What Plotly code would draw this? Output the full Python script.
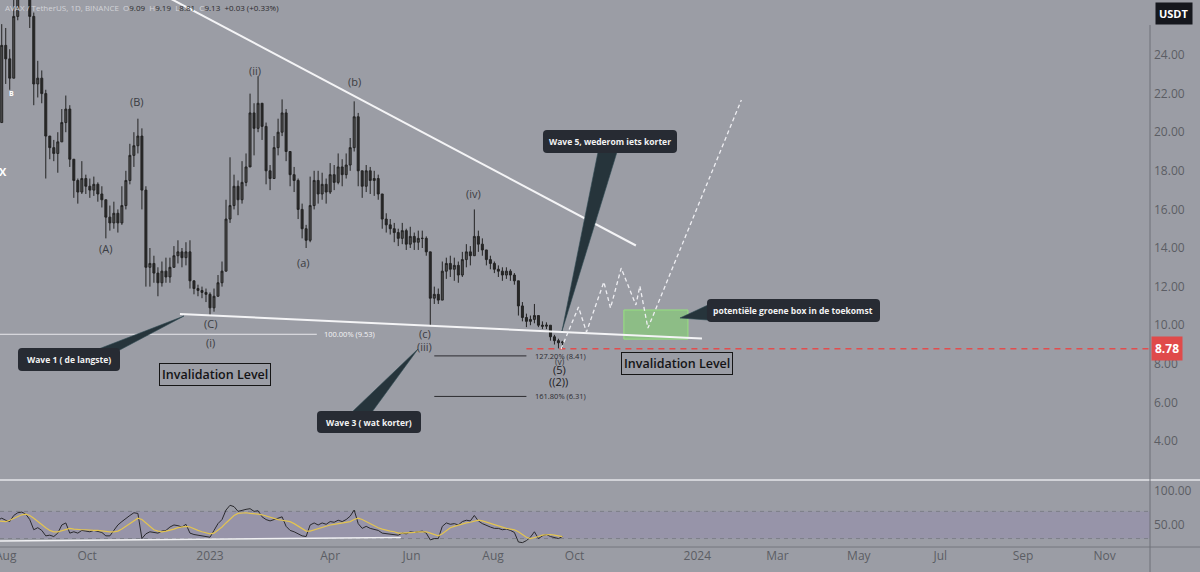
import plotly.graph_objects as go
import pandas as pd

# ---------------- data ----------------
start_date = '2022-07-26'          # first candle, 3-day candles
first_open = 20.0
closes = [20.5, 24.5, 23.8, 22.8, 26.0, 28.0, 28.5, 28.0, 26.0, 22.5,
          22.8, 22.0, 19.8, 19.2, 18.9, 19.5, 20.5, 21.2, 18.6, 17.5,
          16.9, 17.6, 17.2, 17.0, 17.3, 16.8, 16.5, 15.6, 15.3, 15.8,
          15.3, 16.2, 17.5, 18.8, 19.3, 19.8, 17.0, 13.0, 13.2, 12.7,
          12.2, 12.8, 12.5, 13.0, 13.6, 13.8, 13.5, 13.8, 12.3, 11.9,
          11.8, 11.7, 11.6, 10.9, 11.5, 12.2, 12.8, 15.5, 16.2, 17.2,
          16.5, 17.4, 18.2, 21.0, 20.2, 21.5, 20.3, 18.0, 17.6, 19.2,
          20.0, 21.0, 19.0, 17.8, 17.5, 16.0, 15.0, 14.4, 16.2, 17.5,
          16.8, 17.3, 16.9, 17.8, 17.4, 18.2, 17.8, 18.3, 19.2, 20.8,
          18.0, 17.2, 18.0, 17.5, 17.6, 16.8, 15.5, 15.2, 15.0, 14.8,
          14.5, 14.9, 14.2, 14.6, 14.3, 14.5, 14.5, 13.8, 11.4, 11.6,
          11.3, 12.8, 13.2, 12.9, 13.1, 12.6, 13.4, 13.8, 13.6, 14.6,
          14.2, 13.9, 13.4, 13.2, 12.9, 12.8, 12.6, 12.8, 12.6, 12.3,
          11.0, 10.4, 10.2, 10.3, 10.5, 10.0, 9.95, 10.0, 9.4, 9.2,
          9.09, 9.13]
highs = [21.0, 25.6, 25.4, 24.3, 27.0, 29.0, 29.8, 29.5, 28.3, 26.2,
         23.7, 23.2, 22.2, 19.8, 19.6, 20.0, 21.2, 21.9, 21.4, 18.3,
         17.6, 18.5, 17.8, 17.6, 17.7, 17.4, 17.2, 16.5, 16.2, 16.4,
         16.0, 17.2, 18.0, 19.4, 20.0, 20.7, 20.2, 17.2, 14.0, 13.6,
         13.0, 13.3, 13.5, 13.5, 14.1, 14.4, 14.0, 14.3, 14.4, 12.2,
         12.1, 12.0, 11.9, 11.7, 11.9, 12.6, 13.3, 16.5, 18.7, 17.8,
         17.5, 18.5, 18.9, 22.0, 21.5, 22.9, 21.3, 20.5, 18.3, 19.8,
         20.7, 21.7, 21.2, 18.7, 18.2, 17.6, 16.3, 15.2, 17.7, 18.0,
         18.0, 17.9, 17.6, 18.4, 18.3, 18.9, 18.6, 18.9, 19.7, 21.6,
         21.0, 18.0, 18.3, 18.2, 18.0, 17.8, 16.8, 15.8, 15.5, 15.3,
         15.0, 15.3, 15.0, 15.1, 14.8, 14.9, 14.9, 14.6, 13.8, 12.0,
         11.9, 13.3, 13.5, 13.6, 13.5, 13.3, 13.8, 14.2, 14.1, 16.0,
         14.9, 14.5, 13.9, 13.6, 13.3, 13.1, 13.0, 13.0, 12.9, 12.7,
         12.3, 11.2, 10.6, 10.5, 11.1, 10.5, 10.2, 10.15, 10.0, 9.5,
         9.3, 9.19]
lows = [19.6, 20.5, 22.5, 22.2, 22.8, 25.8, 27.5, 27.0, 25.4, 21.4,
        21.8, 21.5, 17.6, 18.6, 18.5, 17.9, 19.5, 20.0, 18.2, 16.6,
        16.3, 16.8, 16.8, 16.6, 16.7, 16.4, 16.1, 14.5, 14.9, 15.0,
        14.8, 15.2, 16.0, 17.3, 18.2, 18.9, 16.0, 12.0, 12.0, 12.2,
        11.5, 12.0, 12.2, 12.2, 13.0, 13.2, 13.0, 13.1, 11.9, 11.6,
        11.5, 11.4, 11.2, 10.5, 10.7, 11.5, 12.0, 12.8, 15.3, 16.0,
        15.7, 16.3, 17.2, 18.3, 18.8, 20.0, 19.6, 17.3, 17.0, 17.6,
        18.8, 19.8, 18.5, 17.2, 16.9, 15.5, 14.5, 14.0, 14.3, 16.0,
        16.3, 16.5, 16.3, 16.8, 17.0, 17.3, 17.2, 17.6, 18.0, 19.0,
        17.2, 16.6, 16.9, 16.8, 16.7, 16.5, 15.0, 14.8, 14.7, 14.3,
        14.1, 14.2, 13.9, 14.0, 13.9, 13.9, 14.0, 13.6, 10.0, 11.1,
        11.1, 11.3, 12.4, 12.5, 12.3, 12.2, 12.5, 13.0, 13.1, 13.6,
        13.8, 13.6, 13.1, 12.9, 12.7, 12.5, 12.3, 12.4, 12.3, 12.1,
        10.5, 10.2, 9.9, 10.0, 10.1, 9.9, 9.8, 9.8, 9.2, 9.0,
        8.8, 8.81]
rsi = [57, 60, 57, 55, 64, 68, 69, 66, 58, 43,
       46, 42, 34, 35, 33, 38, 50, 53, 38, 40,
       38, 42, 41, 40, 42, 40, 39, 34, 34, 42,
       50, 55, 60, 64, 68, 67, 30, 37, 40, 39,
       38, 41, 42, 47, 50, 49, 47, 51, 38, 36,
       35, 34, 33, 32, 42, 52, 58, 72, 79, 77,
       70, 72, 73, 74, 70, 71, 62, 58, 56, 58,
       60, 62, 48, 42, 40, 37, 34, 33, 50, 53,
       50, 53, 51, 55, 54, 57, 55, 58, 63, 72,
       52, 45, 48, 45, 44, 42, 38, 37, 36, 36,
       35, 38, 37, 40, 39, 40, 41, 38, 28, 30,
       30, 48, 53, 51, 52, 50, 55, 57, 56, 64,
       56, 52, 49, 47, 45, 45, 43, 44, 42, 39,
       25, 24, 27, 32, 40, 30, 34, 36, 33, 32,
       30, 33]
rsi_ma = [56, 55, 55, 57, 60, 63, 65, 66, 64, 60,
          55, 50, 46, 42, 40, 40, 42, 44, 45, 44,
          43, 43, 43, 42, 42, 42, 41, 40, 40, 40,
          41, 44, 48, 53, 57, 60, 58, 53, 48, 43,
          41, 40, 41, 42, 44, 46, 47, 48, 47, 44,
          42, 40, 38, 37, 38, 42, 47, 53, 59, 64,
          67, 68, 68, 67, 67, 66, 65, 63, 61, 59,
          58, 57, 56, 55, 52, 48, 44, 41, 41, 43,
          45, 47, 48, 50, 51, 52, 53, 54, 55, 58,
          60, 58, 55, 51, 48, 46, 44, 42, 41, 40,
          38, 38, 38, 38, 39, 40, 40, 40, 38, 36,
          34, 37, 42, 46, 48, 50, 51, 53, 54, 56,
          57, 56, 54, 52, 50, 48, 46, 45, 44, 43,
          40, 36, 32, 30, 31, 33, 35, 36, 36, 35,
          34, 33]

# drawings (date, price)
upper_tl_x = ['2022-11-24', '2023-11-16']
upper_tl_y = [27.23, 14.13]
lower_tl_x = ['2022-12-09 12:00', '2024-01-04 12:00']
lower_tl_y = [10.58, 9.31]
fib100_x = ['2022-07-20', '2023-03-22']
fib100_y = 9.53
fib_ext_x = ['2023-06-18', '2023-08-26']
fib127_y = 8.41
fib161_y = 6.31
invalid_x = ['2023-08-26', '2025-01-01']
invalid_y = 8.78
box_x = ['2023-11-07', '2023-12-25']
box_y = [9.28, 10.79]
proj_x = ['2023-09-21', '2023-10-04', '2023-10-10', '2023-10-23', '2023-10-28',
          '2023-11-05', '2023-11-16', '2023-11-19', '2023-11-25', '2024-02-03']
proj_y = [8.77, 10.94, 9.65, 12.24, 10.89, 12.96, 11.05, 12.03, 9.85, 21.67]
rsi_tl_x = ['2022-07-20', '2023-05-24']
rsi_tl_y = [26.3, 31.4]

wave_labels = ['(B)', '(A)', '(C)', '(i)', '(ii)', '(a)', '(b)', '(c)', '(iii)', '(iv)', '(v)', '(5)', '((2))']
wave_x = ['2022-11-07', '2022-10-15', '2023-01-01', '2023-01-01', '2023-02-04', '2023-03-12',
          '2023-04-19', '2023-06-11', '2023-06-11', '2023-07-17', '2023-09-20', '2023-09-20', '2023-09-19']
wave_y = [21.6, 13.95, 10.11, 9.08, 23.22, 13.27, 22.65, 9.55, 8.90, 16.80, 8.10, 7.70, 7.08]

xtick_vals = ['2022-08-01', '2022-10-01', '2023-01-01', '2023-04-01', '2023-06-01', '2023-08-01',
              '2023-10-01', '2024-01-01', '2024-03-01', '2024-05-01', '2024-07-01', '2024-09-01', '2024-11-01']
xtick_text = ['Aug', 'Oct', '2023', 'Apr', 'Jun', 'Aug', 'Oct', '2024', 'Mar', 'May', 'Jul', 'Sep', 'Nov']
ytick_vals = [4, 6, 8, 10, 12, 14, 16, 18, 20, 22, 24]
rsi_tick_vals = [50, 100]

# ---------------- figure ----------------
BG = '#9b9da5'
TXT = '#5b5d64'
PW, PH = 1150, 547


def px(x):
    return x / PW


def py(y):
    return 1 - y / PH


dates = pd.date_range(start_date, periods=len(closes), freq='3D')
opens = [first_open] + closes[:-1]
opens[-1] = 9.09

fig = go.Figure()
fig.add_trace(go.Candlestick(
    x=dates, open=opens, high=highs, low=lows, close=closes,
    increasing=dict(line=dict(color='#232323', width=1), fillcolor='#4f4f4f'),
    decreasing=dict(line=dict(color='#232323', width=1), fillcolor='#282828'),
    whiskerwidth=0, hoverinfo='skip', showlegend=False, xaxis='x', yaxis='y'))

line_kw = dict(mode='lines', hoverinfo='skip', showlegend=False, xaxis='x', yaxis='y')
fig.add_trace(go.Scatter(x=upper_tl_x, y=upper_tl_y, line=dict(color='#f4f4f6', width=2), **line_kw))
fig.add_trace(go.Scatter(x=lower_tl_x, y=lower_tl_y, line=dict(color='#f4f4f6', width=2), **line_kw))
fig.add_trace(go.Scatter(x=fib100_x, y=[fib100_y, fib100_y], line=dict(color='#e8e8ec', width=1), **line_kw))
fig.add_trace(go.Scatter(x=fib_ext_x, y=[fib127_y, fib127_y], line=dict(color='#2c2c30', width=1), **line_kw))
fig.add_trace(go.Scatter(x=fib_ext_x, y=[fib161_y, fib161_y], line=dict(color='#2c2c30', width=1), **line_kw))
fig.add_trace(go.Scatter(x=invalid_x, y=[invalid_y, invalid_y],
                         line=dict(color='#e24d4d', width=1.5, dash='6px,5px'), **line_kw))
fig.add_trace(go.Scatter(x=proj_x, y=proj_y, line=dict(color='#eeeef2', width=1.3, dash='4px,3px'), **line_kw))

# RSI pane
rsi_kw = dict(mode='lines', hoverinfo='skip', showlegend=False, xaxis='x', yaxis='y2')
fig.add_trace(go.Scatter(x=rsi_tl_x, y=rsi_tl_y, line=dict(color='#f0f0f3', width=1.5), **rsi_kw))
fig.add_trace(go.Scatter(x=dates, y=rsi, line=dict(color='#2a2a2e', width=1), **rsi_kw))
fig.add_trace(go.Scatter(x=dates, y=rsi_ma, line=dict(color='#e3c450', width=1.2), **rsi_kw))

shapes = []
# RSI band
shapes.append(dict(type='rect', xref='paper', yref='y2', x0=0, x1=1, y0=30, y1=70,
                   fillcolor='rgba(126,87,194,0.12)', line=dict(width=0), layer='below'))
for lv in (30, 70):
    shapes.append(dict(type='line', xref='paper', yref='y2', x0=0, x1=1, y0=lv, y1=lv,
                       line=dict(color='#7c7e88', width=1, dash='4px,4px'), layer='below'))
# green box
shapes.append(dict(type='rect', xref='x', yref='y', x0=box_x[0], x1=box_x[1], y0=box_y[0], y1=box_y[1],
                   fillcolor='rgba(130,215,110,0.55)', line=dict(color='#96e27f', width=1), layer='below'))
# pane separators and axis line
shapes.append(dict(type='line', xref='paper', yref='paper', x0=0, x1=px(1200), y0=py(480), y1=py(480),
                   line=dict(color='#d2d3d8', width=2)))
shapes.append(dict(type='line', xref='paper', yref='paper', x0=0, x1=px(1200), y0=py(547), y1=py(547),
                   line=dict(color='#74767e', width=1)))
shapes.append(dict(type='line', xref='paper', yref='paper', x0=1, x1=1, y0=py(572), y1=py(25),
                   line=dict(color='#6e7078', width=1)))


def rrect(x0, y0, x1, y1, r=4):
    p = lambda x, y: f'{px(x):.5f},{py(y):.5f}'
    return (f'M {p(x0 + r, y0)} L {p(x1 - r, y0)} Q {p(x1, y0)} {p(x1, y0 + r)} '
            f'L {p(x1, y1 - r)} Q {p(x1, y1)} {p(x1 - r, y1)} L {p(x0 + r, y1)} '
            f'Q {p(x0, y1)} {p(x0, y1 - r)} L {p(x0, y0 + r)} Q {p(x0, y0)} {p(x0 + r, y0)} Z')


def tri(a, b, c):
    p = lambda q: f'{px(q[0]):.5f},{py(q[1]):.5f}'
    return f'M {p(a)} L {p(b)} L {p(c)} Z'


CALL = '#272b33'
PTR = '#26343b'
callouts = [
    ((18, 348, 120, 371), ((96, 350), (116, 352), (184, 316)), 'Wave 1 ( de langste)'),
    ((317, 411, 421, 433), ((352, 412), (372, 412), (418, 349)), 'Wave 3 ( wat korter)'),
    ((543, 130, 677, 153), ((598, 152), (617, 152), (562, 331)), 'Wave 5, wederom iets korter'),
    ((707, 299, 880, 322), ((708, 305), (708, 320), (680, 318)), 'potentiële groene box in de toekomst'),
]
annotations = []
for (x0, y0, x1, y1), (a, b, c), txt in callouts:
    shapes.append(dict(type='path', xref='paper', yref='paper', path=tri(a, b, c),
                       fillcolor=PTR, line=dict(color='#2f4a52', width=0.6)))
    shapes.append(dict(type='path', xref='paper', yref='paper', path=rrect(x0, y0, x1, y1),
                       fillcolor=CALL, line=dict(width=0)))
    annotations.append(dict(xref='paper', yref='paper', x=px((x0 + x1) / 2), y=py((y0 + y1) / 2),
                            xanchor='center', yanchor='middle',
                            text=f'<b>{txt}</b>', showarrow=False,
                            font=dict(family='Open Sans', size=8.5, color='#f2f2f2')))

# Elliott labels
for t, xx, yy in zip(wave_labels, wave_x, wave_y):
    dark = t in ('(5)', '((2))')
    annotations.append(dict(xref='x', yref='y', x=xx, y=yy, text=t, showarrow=False,
                            xanchor='center', yanchor='middle',
                            font=dict(family='Open Sans', size=8.5 if t == '(v)' else 11,
                                      color='#1c1c1f' if dark else '#3a3c42')))

# white labels
annotations += [
    dict(xref='paper', yref='paper', x=px(3), y=py(171), text='<b>X</b>', showarrow=False,
         xanchor='center', yanchor='middle', font=dict(family='Open Sans', size=11, color='#ffffff')),
    dict(xref='paper', yref='paper', x=px(11), y=py(94), text='<b>B</b>', showarrow=False,
         xanchor='center', yanchor='middle', font=dict(family='Open Sans', size=7, color='#ffffff')),
]

# fib labels
annotations += [
    dict(xref='x', yref='y', x='2023-03-26', y=fib100_y, text='100.00% (9.53)', showarrow=False,
         xanchor='left', font=dict(family='Open Sans', size=7.5, color='#f4f4f6')),
    dict(xref='x', yref='y', x='2023-08-31', y=fib127_y, text='127.20% (8.41)', showarrow=False,
         xanchor='left', font=dict(family='Open Sans', size=7.5, color='#2c2c30')),
    dict(xref='x', yref='y', x='2023-08-31', y=fib161_y, text='161.80% (6.31)', showarrow=False,
         xanchor='left', font=dict(family='Open Sans', size=7.5, color='#2c2c30')),
]

# invalidation level boxes
for xx, yy in (('2023-01-05', 7.47), ('2023-12-17', 8.04)):
    annotations.append(dict(xref='x', yref='y', x=xx, y=yy, text='Invalidation Level', showarrow=False,
                            xanchor='center', yanchor='middle',
                            bordercolor='#151515', borderwidth=1, borderpad=2,
                            font=dict(family='Open Sans', size=12.5, color='#141416', weight=600)))

# header line
LG = '#d3d4d9'
DK = '#2b2b2e'
header = (f'<span style="color:{LG}">AVAX / TetherUS, 1D, BINANCE</span>  '
          f'<span style="color:{LG}">O</span><span style="color:{DK}">9.09</span>  '
          f'<span style="color:{LG}">H</span><span style="color:{DK}">9.19</span>  '
          f'<span style="color:{LG}">L</span><span style="color:{DK}">8.81</span>  '
          f'<span style="color:{LG}">C</span><span style="color:{DK}">9.13</span>  '
          f'<span style="color:{DK}">+0.03 (+0.33%)</span>')
annotations.append(dict(xref='paper', yref='paper', x=px(3), y=py(8), xanchor='left', yanchor='middle',
                        text=header, showarrow=False, font=dict(family='Open Sans', size=8, color=DK)))

# right axis badges
annotations.append(dict(xref='paper', yref='paper', x=px(1174), y=py(13), text='<b>USDT</b>',
                        xanchor='center', yanchor='middle',
                        showarrow=False, bgcolor='#15171d', borderpad=3,
                        font=dict(family='Open Sans', size=11, color='#ffffff')))
annotations.append(dict(xref='paper', yref='y', x=px(1151), y=invalid_y, xanchor='left', yanchor='middle',
                        text='<b>8.78</b>', showarrow=False, bgcolor='#e04a4a', borderpad=3,
                        font=dict(family='Open Sans', size=12, color='#ffffff')))

fig.update_layout(
    width=1200, height=572,
    margin=dict(l=0, r=50, t=0, b=25),
    paper_bgcolor=BG, plot_bgcolor=BG,
    showlegend=False,
    shapes=shapes, annotations=annotations,
    xaxis=dict(type='date', range=['2022-07-27 17:00', '2024-12-05 02:00'], domain=[0, 1],
               anchor='y2', showgrid=False, zeroline=False, showline=False, automargin=False,
               tickvals=xtick_vals, ticktext=xtick_text, ticks='', ticklabeloverflow='allow',
               tickfont=dict(family='Open Sans', size=12, color=TXT),
               rangeslider=dict(visible=False)),
    yaxis=dict(domain=[67 / 547, 1], range=[1.98, 26.85], side='right', anchor='x', automargin=False,
               showgrid=False, zeroline=False, tickvals=ytick_vals, tickformat='.2f', ticks='',
               ticklabelstandoff=3, tickfont=dict(family='Open Sans', size=12, color=TXT)),
    yaxis2=dict(domain=[0, 67 / 547], range=[17.6, 116.2], side='right', anchor='x', automargin=False,
                showgrid=False, zeroline=False, tickvals=rsi_tick_vals, tickformat='.2f', ticks='',
                ticklabelstandoff=3, tickfont=dict(family='Open Sans', size=12, color=TXT)),
)

fig.write_html('out.html', config={'displayModeBar': False},
               post_script="document.body.style.margin='0px';document.body.style.overflow='hidden';")
